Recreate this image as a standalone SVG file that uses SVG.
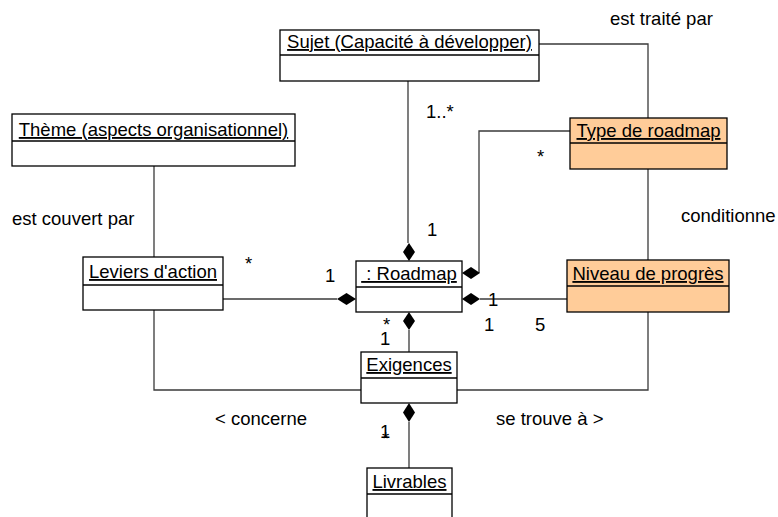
<svg xmlns="http://www.w3.org/2000/svg" width="778" height="517" viewBox="0 0 778 517">
<style>
.box{fill:#ffffff;stroke:#000;stroke-width:1.3}
.org{fill:#ffcc99;stroke:#000;stroke-width:1.3}
.div{stroke:#000;stroke-width:1.3;fill:none}
.t{font-family:"Liberation Sans",Arial,sans-serif;font-size:18.5px;fill:#000}
.title{text-decoration:underline;text-anchor:middle}
.c{fill:none;stroke:#3a3a3a;stroke-width:1.3}
.d{fill:#000;stroke:none}
</style>
<rect width="778" height="517" fill="#fff"/>
<g id="connectors">
<polyline class="c" points="539,44 648,44 648,118"/>
<line class="c" x1="408" y1="81" x2="408" y2="243"/>
<line class="c" x1="154" y1="166" x2="154" y2="257"/>
<line class="c" x1="223" y1="299" x2="337" y2="299"/>
<polyline class="c" points="154,310 154,390 361,390"/>
<polyline class="c" points="570,131 479,131 479,273"/>
<line class="c" x1="648" y1="169" x2="648" y2="260"/>
<line class="c" x1="567" y1="299" x2="480" y2="299"/>
<polyline class="c" points="648,312 648,390 457,390"/>
<line class="c" x1="409" y1="330" x2="409" y2="352"/>
<line class="c" x1="409" y1="422" x2="409" y2="468"/>
<polygon class="d" points="409,243 415,252 409,261 403,252"/>
<polygon class="d" points="462,273 471,267 480,273 471,279"/>
<polygon class="d" points="462,299 471,293 480,299 471,305"/>
<polygon class="d" points="356,299 346.5,293 337,299 346.5,305"/>
<polygon class="d" points="409,312 415,321 409,330 403,321"/>
<polygon class="d" points="409,403 415,412.5 409,422 403,412.5"/>
<text class="t" x="610" y="25">est traité par</text>
<text class="t" x="426" y="118">1..*</text>
<text class="t" x="537" y="163">*</text>
<text class="t" x="427" y="236">1</text>
<text class="t" x="12" y="225">est couvert par</text>
<text class="t" x="245" y="270">*</text>
<text class="t" x="325" y="282">1</text>
<text class="t" x="681" y="222">conditionne</text>
<text class="t" x="488" y="306">1</text>
<text class="t" x="484" y="331">1</text>
<text class="t" x="535" y="331">5</text>
<text class="t" x="383" y="331">*</text>
<text class="t" x="380" y="345">1</text>
<text class="t" x="215" y="425">&lt; concerne</text>
<text class="t" x="496" y="425">se trouve à &gt;</text>
<text class="t" x="380" y="438">1</text>
<text class="t" x="382" y="445">*</text>
</g>
<g id="sujet">
<rect class="box" x="280" y="30" width="259" height="51"/>
<line class="div" x1="280" y1="55" x2="539" y2="55"/>
<text class="t title" x="409.5" y="48">Sujet (Capacité à développer)</text>
</g>
<g id="theme">
<rect class="box" x="12" y="114" width="283" height="52"/>
<line class="div" x1="12" y1="141" x2="295" y2="141"/>
<text class="t title" x="153.5" y="136">Thème (aspects organisationnel)</text>
</g>
<g id="leviers">
<rect class="box" x="83" y="257" width="140" height="53"/>
<line class="div" x1="83" y1="285" x2="223" y2="285"/>
<text class="t title" x="153" y="278">Leviers d'action</text>
</g>
<g id="roadmap">
<rect class="box" x="356" y="261" width="106" height="51"/>
<line class="div" x1="356" y1="287" x2="462" y2="287"/>
<text class="t title" x="409" y="280" xml:space="preserve"> : Roadmap</text>
</g>
<g id="type">
<rect class="org" x="570" y="118" width="157" height="51"/>
<line class="div" x1="570" y1="143" x2="727" y2="143"/>
<text class="t title" x="648.5" y="137">Type de roadmap</text>
</g>
<g id="niveau">
<rect class="org" x="567" y="260" width="162" height="52"/>
<line class="div" x1="567" y1="286" x2="729" y2="286"/>
<text class="t title" x="648" y="280">Niveau de progrès</text>
</g>
<g id="exigences">
<rect class="box" x="361" y="352" width="96" height="51"/>
<line class="div" x1="361" y1="378" x2="457" y2="378"/>
<text class="t title" x="409" y="371">Exigences</text>
</g>
<g id="livrables">
<rect class="box" x="367" y="468" width="85" height="60"/>
<line class="div" x1="367" y1="494" x2="452" y2="494"/>
<text class="t title" x="409.5" y="488">Livrables</text>
</g>
</svg>
